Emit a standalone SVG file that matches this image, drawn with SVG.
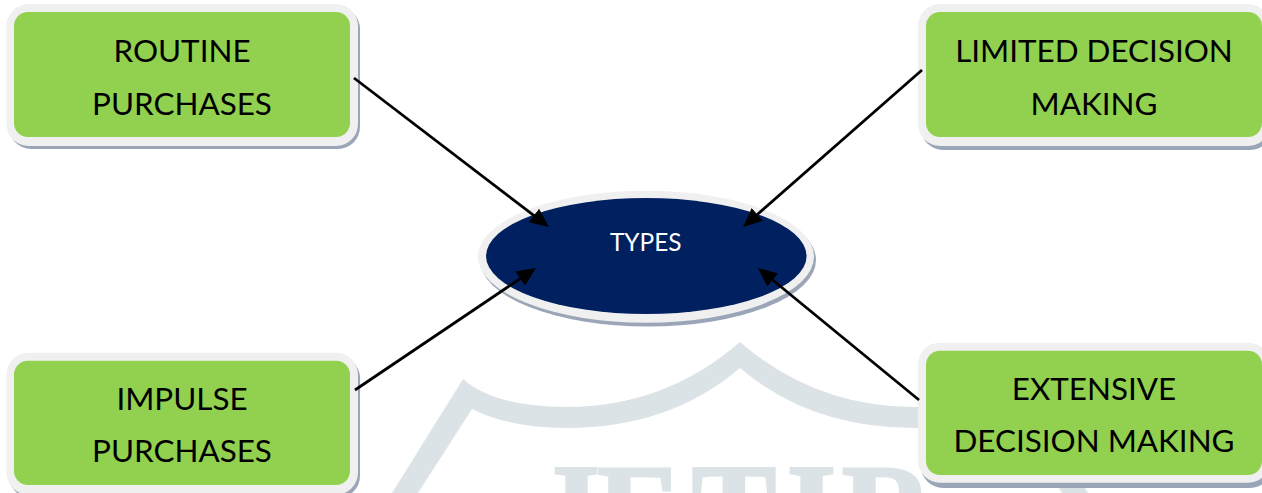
<svg xmlns="http://www.w3.org/2000/svg" width="1262" height="493" viewBox="0 0 1262 493">
<style>
.wm{fill:#dce3e6}
.wmt{fill:#dce3e6;stroke:#dce3e6;stroke-width:3;font-family:"Liberation Serif",serif;font-weight:700;font-size:126px}
.sh{fill:#9aa6b8}
.rim{fill:#f0f0f0}
.box{fill:#92d14f}
.t{font-family:Lato,"Noto Sans",sans-serif;font-size:31.400px;fill:#000;text-anchor:middle}
.c{fill:none;stroke:#000;stroke-width:2.800}
</style>
<defs>
<marker id="ah" markerUnits="userSpaceOnUse" markerWidth="22" markerHeight="20" refX="13" refY="9" orient="auto">
<path d="M0,0.500 L19,9 L0,17.500 Z" fill="#000"/>
</marker>
</defs>
<rect width="1262" height="493" fill="#fff"/>
<g id="watermark">
<path class="wm" d="M392,493 L463,379 Q495,407 566,407 Q665,407 740,342 Q815,407 914,407 Q985,407 1017,379 L1088,493 L1062,493 L1008,409 Q970,428 914,428 Q810,428 740,368 Q670,428 566,428 Q510,428 472,409 L418,493 Z"/>
<text class="wmt" y="551.500" x="536 597 692 787 842">JETIR</text>
</g>
<g id="routine">
<rect class="sh" x="9" y="7" width="351" height="142" rx="22"/>
<rect class="rim" x="6.500" y="4" width="351.500" height="142" rx="22"/>
<rect class="box" x="14" y="12" width="336" height="125" rx="14"/>
<text class="t" x="182" y="62">ROUTINE</text>
<text class="t" x="182" y="114.500">PURCHASES</text>
</g>
<g id="limited">
<rect class="sh" x="921" y="7" width="351" height="143" rx="22"/>
<rect class="rim" x="918" y="4" width="352" height="142" rx="22"/>
<rect class="box" x="926" y="12" width="336" height="125" rx="14"/>
<text class="t" x="1094" y="62">LIMITED DECISION</text>
<text class="t" x="1094" y="114.500">MAKING</text>
</g>
<g id="impulse">
<rect class="sh" x="9" y="356" width="351" height="142" rx="22"/>
<rect class="rim" x="6.500" y="352.700" width="351.500" height="142" rx="22"/>
<rect class="box" x="14" y="360.700" width="336" height="124.300" rx="14"/>
<text class="t" x="182" y="410">IMPULSE</text>
<text class="t" x="182" y="462">PURCHASES</text>
</g>
<g id="extensive">
<rect class="sh" x="921" y="346" width="351" height="142" rx="22"/>
<rect class="rim" x="918" y="342.700" width="352" height="140" rx="22"/>
<rect class="box" x="926" y="350.700" width="336" height="124.300" rx="14"/>
<text class="t" x="1094" y="400">EXTENSIVE</text>
<text class="t" x="1094" y="451.700">DECISION MAKING</text>
</g>
<g id="types">
<ellipse class="sh" cx="648" cy="260" rx="168" ry="66.500"/>
<ellipse class="rim" cx="646" cy="256.700" rx="168" ry="66"/>
<ellipse cx="646.300" cy="256" rx="160.300" ry="58" fill="#002060"/>
<text x="645.700" y="250.700" font-family="Lato,'Noto Sans',sans-serif" font-size="24.400" fill="#fff" text-anchor="middle">TYPES</text>
</g>
<g id="connectors">
<line class="c" x1="354" y1="78" x2="544.200" y2="223.400" marker-end="url(#ah)"/>
<line class="c" x1="922" y1="70" x2="747.500" y2="223" marker-end="url(#ah)"/>
<line class="c" x1="355" y1="390" x2="531" y2="271.400" marker-end="url(#ah)"/>
<line class="c" x1="919" y1="400" x2="762.600" y2="271.800" marker-end="url(#ah)"/>
</g>
</svg>
